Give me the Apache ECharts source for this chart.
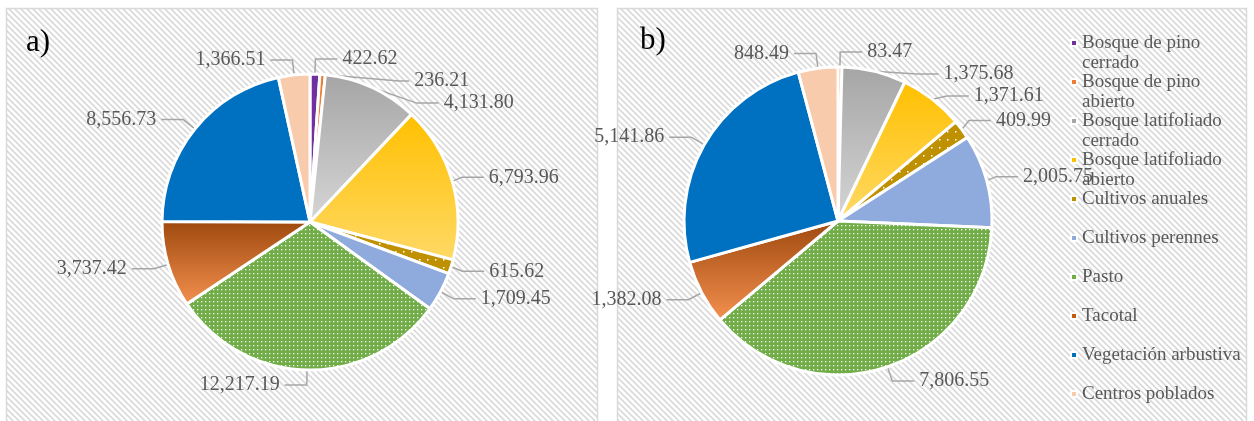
<!DOCTYPE html>
<html>
<head>
<meta charset="utf-8">
<script src="https://cdn.jsdelivr.net/npm/echarts@6/dist/echarts.min.js"></script>
<style>
html,body{margin:0;padding:0;background:#fff;}
#c{width:1254px;height:421px;}
</style>
</head>
<body>
<div id="c"></div>
<script>
// ---- data ----
const categories = ['Bosque de pino cerrado','Bosque de pino abierto','Bosque latifoliado cerrado','Bosque latifoliado abierto','Cultivos anuales','Cultivos perennes','Pasto','Tacotal','Vegetación arbustiva','Centros poblados'];
const valuesA = [422.62, 236.21, 4131.80, 6793.96, 615.62, 1709.45, 12217.19, 3737.42, 8556.73, 1366.51];
const valuesB = [null, 83.47, 1375.68, 1371.61, 409.99, 2005.75, 7806.55, 1382.08, 5141.86, 848.49];
const panelTitles = ['a)', 'b)'];

// ---- styles ----
function makeCanvas(w, h, draw){const c=document.createElement('canvas');c.width=w;c.height=h;draw(c.getContext('2d'));return c;}
const hatch = makeCanvas(6,6,function(g){
  g.fillStyle='#ffffff';g.fillRect(0,0,6,6);
  g.strokeStyle='#d9d9d9';g.lineWidth=1.6;
  g.beginPath();
  g.moveTo(-1,-1);g.lineTo(7,7);
  g.moveTo(-4,2);g.lineTo(1,7);
  g.moveTo(2,-4);g.lineTo(7,1);
  g.stroke();
});
const dotGreen = makeCanvas(4,4,function(g){g.fillStyle='#70ad47';g.fillRect(0,0,4,4);g.fillStyle='#ffffff';g.fillRect(1,1,1.3,1.3);});
const dotGold = makeCanvas(8,8,function(g){g.fillStyle='#bf9000';g.fillRect(0,0,8,8);g.fillStyle='#ffffff';g.fillRect(3,3,1.5,1.5);});
function vgrad(a,b){return {type:'linear',x:0,y:0,x2:0,y2:1,colorStops:[{offset:0,color:a},{offset:1,color:b}]};}
const sliceColors = [
  '#7030a0',
  '#ed7d31',
  vgrad('#a5a5a5','#d6d6d6'),
  vgrad('#ffc000','#ffd966'),
  {image:dotGold, repeat:'repeat'},
  '#8faadc',
  {image:dotGreen, repeat:'repeat'},
  vgrad('#9e480e','#f4914f'),
  '#0070c0',
  '#f8cbad'
];
const legendColors = ['#7030a0','#ed7d31','#a5a5a5','#ffc000','#bf9000','#8faadc','#70ad47','#c55a11','#0070c0','#f8cbad'];

function buildData(vals){
  return categories.map(function(n,i){return {name:n, value:vals[i]==null?'-':vals[i], itemStyle:{color:sliceColors[i]}};});
}
const labelStyle = {fontFamily:'Liberation Serif', fontSize:20, color:'#595959',
  formatter:function(p){return p.value.toLocaleString('en-US',{minimumFractionDigits:2,maximumFractionDigits:2});}};
function pie(vals, center, r){
  return {type:'pie', center:center, radius:r, startAngle:90, clockwise:true, avoidLabelOverlap:true,
    data:buildData(vals), itemStyle:{borderColor:'#ffffff', borderWidth:3},
    label:labelStyle, labelLine:{length:15, length2:22, lineStyle:{color:'#a6a6a6', width:1.5}},
    emphasis:{disabled:true}, animation:false};
}

// every legend entry is three lines (blank / first line / second line or blank) so the marker sits on the first line
const legends = categories.map(function(n,i){
  return {orient:'vertical', left:1070, top:43 + 39*i - 30, padding:0, itemWidth:6, itemHeight:6, icon:'rect',
    data:[{name:n, itemStyle:{color:legendColors[i]}}],
    formatter:function(name){
      if(name.length>20){const k=name.lastIndexOf(' ');return ' \n'+name.slice(0,k)+'\n'+name.slice(k+1);}
      return ' \n'+name+'\n ';
    },
    textStyle:{fontFamily:'Liberation Serif', fontSize:19, color:'#595959', lineHeight:20},
    selectedMode:false};
});

const chart = echarts.init(document.getElementById('c'), null, {renderer:'canvas'});
chart.setOption({
  animation:false,
  graphic:[
    {type:'rect', z:-10, shape:{x:6.5,y:8.5,width:591,height:440}, style:{fill:{image:hatch,repeat:'repeat'}, stroke:'#d9d9d9', lineWidth:1.5}},
    {type:'rect', z:-10, shape:{x:617.5,y:8.5,width:629,height:440}, style:{fill:{image:hatch,repeat:'repeat'}, stroke:'#d9d9d9', lineWidth:1.5}},
    {type:'text', left:26, top:27, style:{text:panelTitles[0], font:'31px "Liberation Serif"', fill:'#000'}},
    {type:'text', left:640, top:25, style:{text:panelTitles[1], font:'31px "Liberation Serif"', fill:'#000'}}
  ],
  legend:legends,
  series:[pie(valuesA,[310,222],148), pie(valuesB,[838,221],154)]
});
</script>
</body>
</html>
